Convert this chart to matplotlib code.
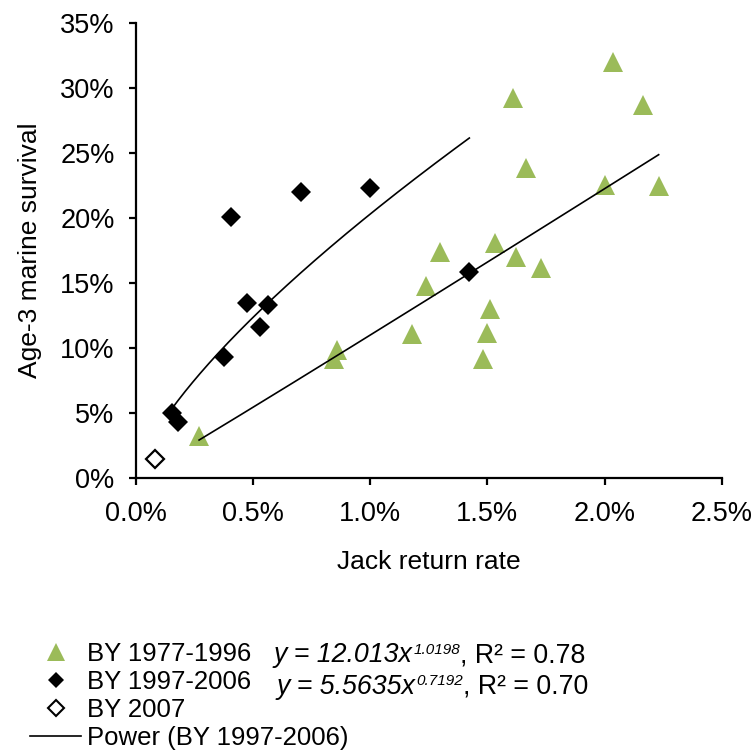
import numpy as np
import matplotlib
matplotlib.use("Agg")
import matplotlib.pyplot as plt
from matplotlib.ticker import PercentFormatter, MultipleLocator
from matplotlib.lines import Line2D

plt.rcParams['font.family'] = ['Liberation Sans', 'DejaVu Sans']

# Data (fractions)
green_x = [0.00271, 0.00857, 0.00846, 0.01177, 0.01237, 0.01298, 0.02037, 0.01608, 0.02162,
           0.01665, 0.02000, 0.02230, 0.01531, 0.01622, 0.01730, 0.01511, 0.01497, 0.01483]
green_y = [0.0323, 0.0980, 0.0910, 0.1108, 0.1477, 0.1740, 0.3200, 0.2920, 0.2865,
           0.2380, 0.2250, 0.2246, 0.1805, 0.1695, 0.1610, 0.1300, 0.1115, 0.0915]

black_x = [0.00406, 0.00704, 0.01000, 0.00474, 0.00563, 0.00531, 0.00377, 0.00154, 0.00180, 0.01423]
black_y = [0.2003, 0.2200, 0.2230, 0.1346, 0.1326, 0.1160, 0.0930, 0.0495, 0.0428, 0.1580]

white_x = [0.00083]
white_y = [0.0141]

# Power trendline coefficients (as shown on chart)
green_a, green_b = 12.013, 1.0198
black_a, black_b = 5.5635, 0.7192

labels = ["BY 1977-1996", "BY 1997-2006", "BY 2007", "Power (BY 1997-2006)"]
eq_main = ["y = 12.013x", "y = 5.5635x"]
eq_sup = ["1.0198", "0.7192"]
eq_tail = [", R² = 0.78", ", R² = 0.70"]

GREEN = '#9BBB59'
W, H = 756, 750

fig = plt.figure(figsize=(W/100, H/100), dpi=100)
ax = fig.add_axes([135.5/W, 1-477.7/H, (722-135.5)/W, (477.7-22.7)/H])

ax.plot(green_x, green_y, linestyle='none', marker='^', markersize=14.5,
        color=GREEN, markeredgewidth=0, zorder=3)
ax.plot(black_x, black_y, linestyle='none', marker='D', markersize=10.5,
        color='black', markeredgewidth=0, zorder=4)
ax.plot(white_x, white_y, linestyle='none', marker='D', markersize=9.5,
        markerfacecolor='white', markeredgecolor='black', markeredgewidth=1.6, zorder=4)

gx = np.linspace(min(green_x), max(green_x), 200)
ax.plot(gx, green_a * gx ** green_b, color='black', linewidth=1.2, zorder=5)
bx = np.linspace(min(black_x), max(black_x), 200)
ax.plot(bx, black_a * bx ** black_b, color='black', linewidth=1.2, zorder=5)

ax.set_xlim(0, 0.025)
ax.set_ylim(0, 0.35)
ax.xaxis.set_major_locator(MultipleLocator(0.005))
ax.yaxis.set_major_locator(MultipleLocator(0.05))
ax.xaxis.set_major_formatter(PercentFormatter(xmax=1, decimals=1))
ax.yaxis.set_major_formatter(PercentFormatter(xmax=1, decimals=0))

for s in ['top', 'right']:
    ax.spines[s].set_visible(False)
for s in ['left', 'bottom']:
    ax.spines[s].set_linewidth(1.6)
ax.tick_params(axis='both', direction='out', length=5, width=1.6, labelsize=19.5)
ax.tick_params(axis='x', pad=12)
ax.tick_params(axis='y', pad=10)

ax.set_xlabel("Jack return rate", fontsize=19, labelpad=16)
ax.set_ylabel("Age-3 marine survival", fontsize=19, labelpad=13)

leg_g = Line2D([], [], linestyle='none', marker='^', markersize=12.5, color=GREEN, markeredgewidth=0)
leg_b = Line2D([], [], linestyle='none', marker='D', markersize=8.5, color='black', markeredgewidth=0)
leg_w = Line2D([], [], linestyle='none', marker='D', markersize=7.8, markerfacecolor='white',
               markeredgecolor='black', markeredgewidth=1.5)
leg_l = Line2D([], [], color='black', linewidth=1.2)
fig.legend([leg_g, leg_b, leg_w, leg_l], labels, loc='upper left',
           bbox_to_anchor=(30/W, 1-642/H), frameon=False, fontsize=18.5,
           handlelength=2.0, handletextpad=0.2, labelspacing=0.16, borderpad=0,
           borderaxespad=0)

renderer = fig.canvas.get_renderer()
starts = [274, 276.5]
bases = [662, 693.5]
for i in range(2):
    y = 1 - bases[i]/H
    t1 = fig.text(starts[i]/W, y, eq_main[i], fontsize=19.3, style='italic', va='baseline', ha='left')
    bb1 = t1.get_window_extent(renderer)
    t2 = fig.text((bb1.x1 + 0.5)/W, y + 8.5/H, eq_sup[i], fontsize=11, style='italic',
                  va='baseline', ha='left')
    bb2 = t2.get_window_extent(renderer)
    fig.text((bb2.x1)/W, y, eq_tail[i], fontsize=19.3, va='baseline', ha='left')

fig.savefig("out.png", dpi=100)
